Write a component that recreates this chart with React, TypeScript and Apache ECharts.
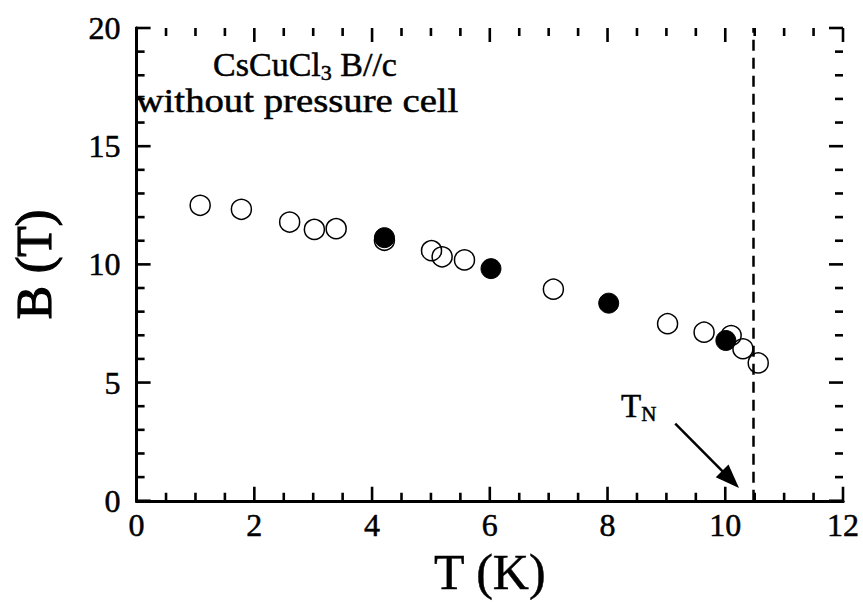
import React, { useEffect, useRef } from "react";
import * as echarts from "echarts";

// Open circles
const openT = [1.08, 1.78, 2.6, 3.02, 3.39, 4.21, 5.01, 5.19, 5.57, 7.08, 9.02, 9.64, 10.1, 10.3, 10.56];
const openB = [12.5, 12.33, 11.79, 11.48, 11.51, 11.02, 10.58, 10.32, 10.19, 8.95, 7.49, 7.13, 6.99, 6.43, 5.83];
// Filled circles
const filledT = [4.21, 6.02, 8.02, 10.01];
const filledB = [11.13, 9.82, 8.36, 6.78];
// Néel temperature line and arrow (data coordinates)
const TN = 10.47;
const arrowFrom = [9.15, 3.26];
const arrowTo = [10.09, 0.9];

// Axis ranges and tick values
const xMin = 0, xMax = 12, xStep = 2;
const yMin = 0, yMax = 20, yStep = 5;
const xMajorTicks = [0, 2, 4, 6, 8, 10, 12];
const xMinorTicks = [0.5, 1, 1.5, 2.5, 3, 3.5, 4.5, 5, 5.5, 6.5, 7, 7.5, 8.5, 9, 9.5, 10.5, 11, 11.5];
const yMajorTicks = [0, 5, 10, 15, 20];
const yMinorTicks = [1, 2, 3, 4, 6, 7, 8, 9, 11, 12, 13, 14, 16, 17, 18, 19];

const FONT = '"Liberation Serif", "Times New Roman", Times, serif';
const INK = { textBorderColor: "#000", textBorderWidth: 0.5 };

export default function App() {
  const ref = useRef<HTMLDivElement>(null);
  useEffect(() => {
    if (!ref.current) return;
    const chart = echarts.init(ref.current, null, { renderer: "svg" });
    const openData = openT.map((t, i) => [t, openB[i]]);
    const filledData = filledT.map((t, i) => [t, filledB[i]]);
    const line = { show: true, lineStyle: { color: "#000", width: 3 } };
    const annotations: any[] = [
      {
        type: "text",
        x: 305,
        y: 64,
        z: 10,
        style: {
          text: "{a|CsCuCl}{s|3}{a| B//c}",
          align: "center",
          verticalAlign: "middle",
          textAlign: "center",
          textVerticalAlign: "middle",
          fill: "#000",
          rich: {
            a: { fontSize: 34, fontFamily: FONT, fill: "#000", lineHeight: 40, verticalAlign: "middle", stroke: "#000", lineWidth: 0.5 },
            s: { fontSize: 22, fontFamily: FONT, fill: "#000", lineHeight: 22, padding: [16, 0, 0, 0], stroke: "#000", lineWidth: 0.5 },
          },
        },
      },
      {
        type: "text",
        x: 297,
        y: 101,
        z: 10,
        scaleX: 1.14,
        style: {
          text: "without pressure cell",
          font: `34px ${FONT}`,
          fontSize: 34,
          fontFamily: FONT,
          align: "center",
          verticalAlign: "middle",
          textAlign: "center",
          textVerticalAlign: "middle",
          fill: "#000",
          stroke: "#000",
          lineWidth: 0.5,
        },
      },
      {
        type: "text",
        x: 621,
        y: 406,
        z: 10,
        style: {
          text: "{t|T}{n|N}",
          align: "left",
          verticalAlign: "middle",
          textAlign: "left",
          textVerticalAlign: "middle",
          fill: "#000",
          rich: {
            t: { fontSize: 33, fontFamily: FONT, fill: "#000", lineHeight: 36, stroke: "#000", lineWidth: 0.5 },
            n: { fontSize: 21, fontFamily: FONT, fill: "#000", lineHeight: 21, padding: [16, 0, 0, 0], stroke: "#000", lineWidth: 0.5 },
          },
        },
      },
    ];
    chart.setOption({
      animation: false,
      backgroundColor: "#fff",
      grid: { left: 131, right: 20, top: 28, bottom: 101, containLabel: false },
      xAxis: [
        {
          type: "value", min: xMin, max: xMax, interval: xStep, position: "bottom",
          splitLine: { show: false },
          axisLine: { ...line },
          axisTick: { show: false },
          axisLabel: { show: true, fontSize: 32, color: "#000", fontFamily: FONT, margin: 8, ...INK },
          name: "T (K)", nameLocation: "middle", nameGap: 46,
          nameTextStyle: { fontSize: 50, color: "#000", fontFamily: FONT, ...INK },
        },
        {
          type: "value", min: xMin, max: xMax, interval: xStep, position: "top",
          splitLine: { show: false },
          axisLine: { ...line },
          axisTick: { show: false },
          axisLabel: { show: false },
        },
      ],
      yAxis: [
        {
          type: "value", min: yMin, max: yMax, interval: yStep, position: "left",
          splitLine: { show: false },
          axisLine: { ...line },
          axisTick: { show: false },
          axisLabel: { show: true, fontSize: 32, color: "#000", fontFamily: FONT, margin: 16, ...INK },
          name: "B (T)", nameLocation: "middle", nameGap: 78,
          nameTextStyle: { fontSize: 50, color: "#000", fontFamily: FONT, textBorderColor: "#000", textBorderWidth: 1.2 },
        },
        {
          type: "value", min: yMin, max: yMax, interval: yStep, position: "right",
          splitLine: { show: false },
          axisLine: { ...line },
          axisTick: { show: false },
          axisLabel: { show: false },
        },
      ],
      series: [
        {
          type: "scatter",
          xAxisIndex: 0,
          yAxisIndex: 0,
          data: openData,
          symbol: "circle",
          symbolSize: 20,
          itemStyle: { color: "rgba(255,255,255,0)", borderColor: "#000", borderWidth: 1.5, opacity: 1 },
          emphasis: { disabled: true },
          markLine: {
            silent: true,
            symbol: ["none", "none"],
            label: { show: false },
            lineStyle: { type: [11, 7], color: "#000", width: 2.5 },
            data: [{ xAxis: TN }],
          },
        },
        {
          type: "scatter",
          xAxisIndex: 0,
          yAxisIndex: 0,
          data: filledData,
          symbol: "circle",
          symbolSize: 20,
          itemStyle: { color: "#000", borderColor: "#000", borderWidth: 1, opacity: 1 },
          emphasis: { disabled: true },
          markLine: {
            silent: true,
            symbol: ["none", "triangle"],
            symbolSize: 20,
            label: { show: false },
            lineStyle: { type: "solid", color: "#000", width: 2.5, opacity: 1 },
            data: [[
              { coord: arrowFrom, symbol: "none" },
              { coord: arrowTo, symbol: "triangle", symbolSize: [18, 24] },
            ]],
          },
        },
      ],
      graphic: annotations,
    });

    // Tick marks on all four sides, positioned through the axes' scales
    const px = (v: number) => chart.convertToPixel({ xAxisIndex: 0 }, v) as unknown as number;
    const py = (v: number) => chart.convertToPixel({ yAxisIndex: 0 }, v) as unknown as number;
    const left = px(xMin), right = px(xMax), bottom = py(yMin), top = py(yMax);
    const st = { stroke: "#000", lineWidth: 2.6 };
    const ticks: any[] = [];
    const addX = (vals: number[], len: number) => {
      vals.forEach((v) => {
        const x = px(v);
        ticks.push({ type: "line", z: 5, silent: true, shape: { x1: x, y1: bottom, x2: x, y2: bottom - len }, style: st });
        ticks.push({ type: "line", z: 5, silent: true, shape: { x1: x, y1: top, x2: x, y2: top + len }, style: st });
      });
    };
    const addY = (vals: number[], len: number) => {
      vals.forEach((v) => {
        const y = py(v);
        ticks.push({ type: "line", z: 5, silent: true, shape: { x1: left, y1: y, x2: left + len, y2: y }, style: st });
        ticks.push({ type: "line", z: 5, silent: true, shape: { x1: right, y1: y, x2: right - len, y2: y }, style: st });
      });
    };
    addX(xMajorTicks, 14);
    addX(xMinorTicks, 8);
    addY(yMajorTicks, 14);
    addY(yMinorTicks, 8);
    chart.setOption({ graphic: [...annotations, ...ticks] });

    return () => chart.dispose();
  }, []);
  return (
    <div
      ref={ref}
      style={{ position: "fixed", left: 0, top: 0, width: 863, height: 602, background: "#fff" }}
    />
  );
}
